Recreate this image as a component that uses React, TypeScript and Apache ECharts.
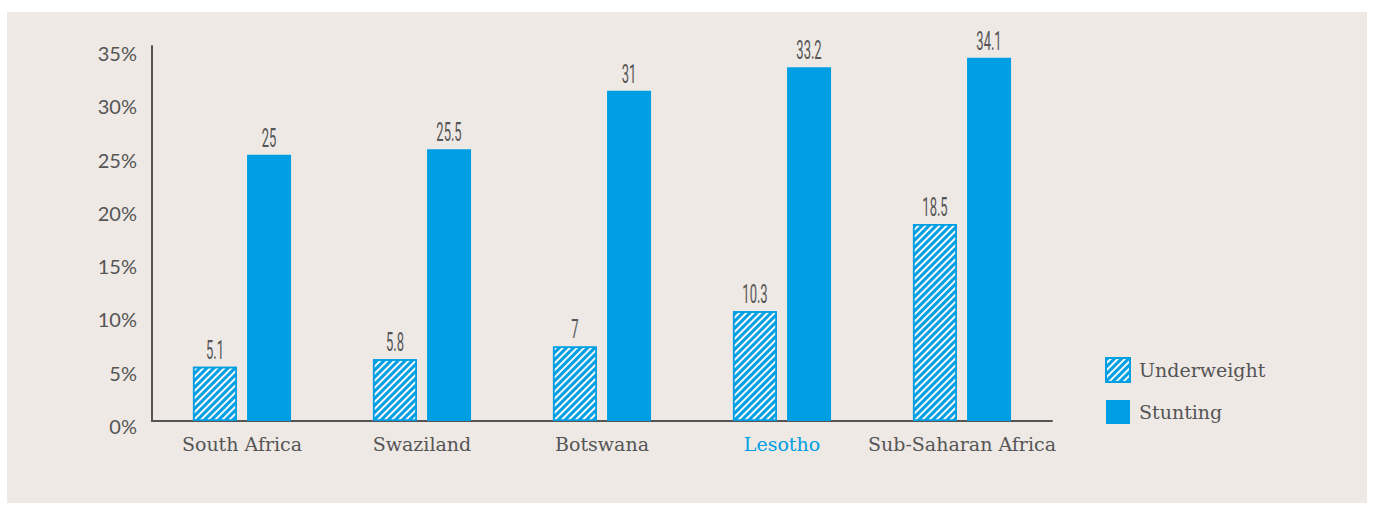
import React, { useEffect, useRef } from "react";
import * as echarts from "echarts";

const categories = ["South Africa", "Swaziland", "Botswana", "Lesotho", "Sub-Saharan Africa"];
const underweight = [5.1, 5.8, 7, 10.3, 18.5];
const stunting = [25, 25.5, 31, 33.2, 34.1];
const highlightCategory = "Lesotho";

const BLUE = "#009FE3";
const TEXT = "#555555";
const SERIF = "'DejaVu Serif', 'Liberation Serif', serif";
const SANS = "Lato, 'Open Sans', sans-serif";
const NARROW = "Roboto, 'DejaVu Sans', sans-serif";

function labelSeries(name: string, values: number[], offset: number) {
  return {
    name: name + " labels",
    type: "custom",
    silent: true,
    z: 5,
    data: values.map((v, i) => [i, v]),
    renderItem: (params: any, api: any) => {
      const pt = api.coord([api.value(0), api.value(1)]);
      return {
        type: "text",
        x: pt[0] + offset,
        y: pt[1] - 4,
        scaleX: 0.5,
        style: {
          text: String(api.value(1)),
          fontSize: 26,
          fontFamily: NARROW,
          fontWeight: 400,
          fill: "#555555",
          align: "center",
          verticalAlign: "bottom",
        },
      };
    },
  };
}

export default function App() {
  const ref = useRef<HTMLDivElement>(null);
  useEffect(() => {
    if (!ref.current) return;
    const chart = echarts.init(ref.current, undefined, { renderer: "svg" });
    chart.setOption({
      animation: false,
      backgroundColor: "#ffffff",
      graphic: [
        {
          type: "rect",
          z: -10,
          silent: true,
          shape: { x: 7, y: 12, width: 1360, height: 491 },
          style: { fill: "#EEE9E5" },
        },
      ],
      grid: { left: 152, right: 321, top: 46, bottom: 84, containLabel: false },
      legend: {
        orient: "vertical",
        left: 1100,
        top: 352,
        icon: "rect",
        itemWidth: 24,
        itemHeight: 24,
        itemGap: 17,
        textStyle: { color: TEXT, fontFamily: SERIF, fontSize: 19, padding: [0, 0, 0, 4] },
        data: ["Underweight", "Stunting"],
      },
      xAxis: {
        type: "category",
        data: categories.map((c) =>
          c === highlightCategory ? { value: c, textStyle: { color: BLUE } } : c
        ),
        axisTick: { show: false },
        axisLine: { show: true, lineStyle: { color: TEXT, width: 2 } },
        axisLabel: { interval: 0, color: TEXT, fontFamily: SERIF, fontSize: 19, margin: 13 },
      },
      yAxis: {
        type: "value",
        min: 0,
        max: 35.2,
        interval: 5,
        splitLine: { show: false },
        axisTick: { show: false },
        axisLine: { show: true, lineStyle: { color: TEXT, width: 2 } },
        axisLabel: {
          color: TEXT,
          fontFamily: SANS,
          fontSize: 20,
          margin: 15,
          verticalAlign: "top",
          lineHeight: 10,
          formatter: (v: number) => (Math.abs(v % 5) < 1e-9 ? v + "%" : ""),
        },
      },
      series: [
        {
          name: "Underweight",
          type: "bar",
          data: underweight,
          barWidth: 44,
          barGap: "23%",
          itemStyle: {
            color: "#F4F8FA",
            borderColor: BLUE,
            borderWidth: 1.5,
            decal: {
              symbol: "rect",
              symbolSize: 1,
              dashArrayX: [1, 0],
              dashArrayY: [2.4, 1.8],
              rotation: -Math.PI / 4,
              color: BLUE,
            },
          },
        },
        {
          name: "Stunting",
          type: "bar",
          data: stunting,
          barWidth: 44,
          itemStyle: { color: BLUE },
        },
        labelSeries("Underweight", underweight, -27),
        labelSeries("Stunting", stunting, 27),
      ],
    });
    return () => chart.dispose();
  }, []);
  return (
    <div
      ref={ref}
      style={{ position: "absolute", left: 0, top: 0, width: 1373, height: 505 }}
    />
  );
}
